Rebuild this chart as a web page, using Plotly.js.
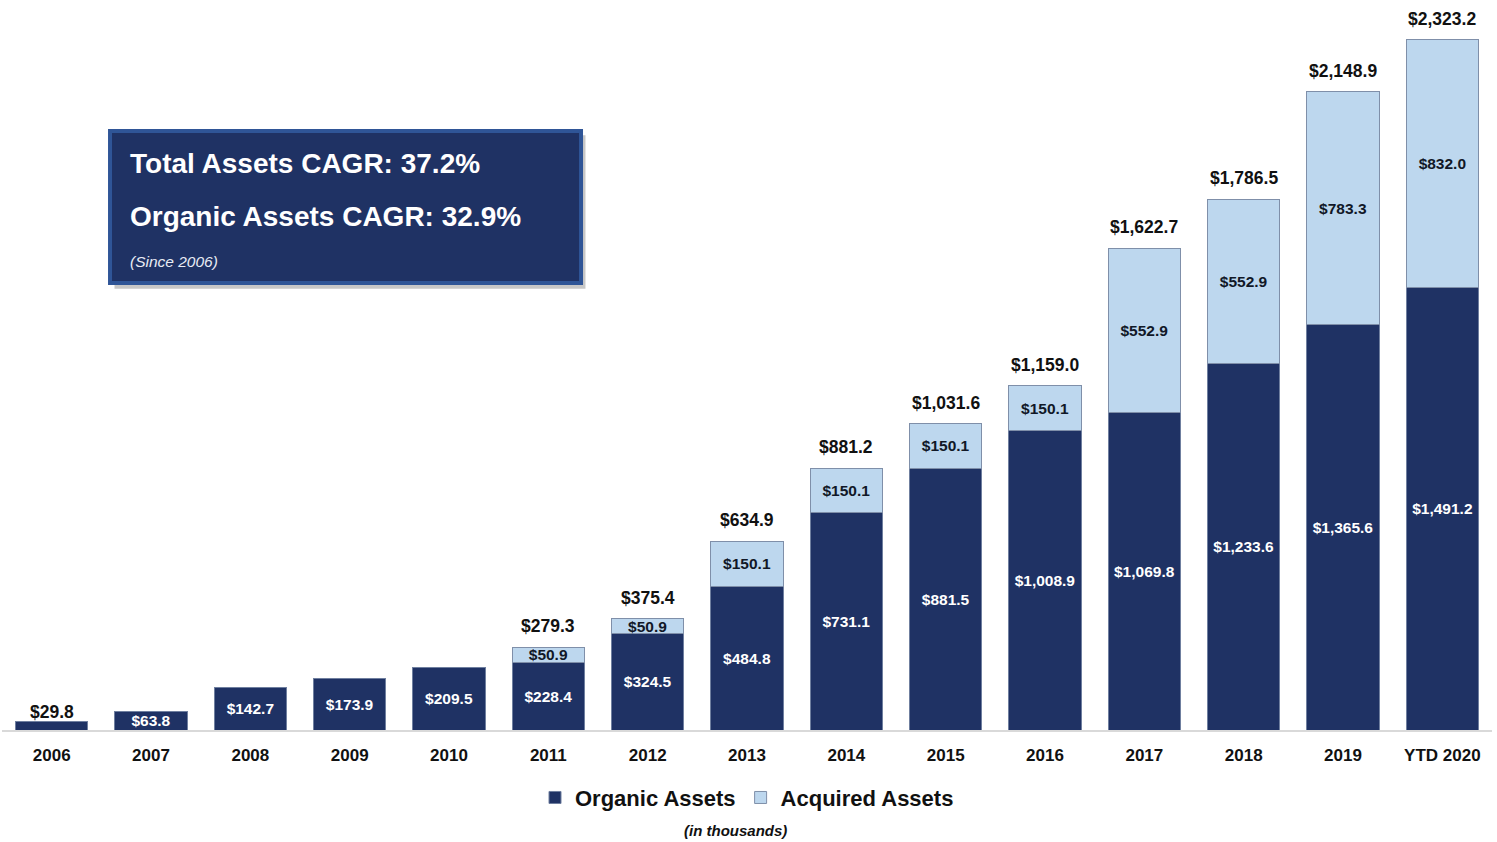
<!DOCTYPE html>
<html>
<head>
<meta charset="utf-8">
<script src="https://cdn.plot.ly/plotly-3.0.1.min.js"></script>
<style>html,body{margin:0;padding:0;background:#fff;}#chart{width:1497px;height:842px;}</style>
</head>
<body>
<div id="chart"></div>
<script>
const categories = ['2006','2007','2008','2009','2010','2011','2012','2013','2014','2015','2016','2017','2018','2019','YTD 2020'];
const organic = [29.8, 63.8, 142.7, 173.9, 209.5, 228.4, 324.5, 484.8, 731.1, 881.5, 1008.9, 1069.8, 1233.6, 1365.6, 1491.2];
const acquired = [null, null, null, null, null, 50.9, 50.9, 150.1, 150.1, 150.1, 150.1, 552.9, 552.9, 783.3, 832.0];
const totalLabels = [29.8, null, null, null, null, 279.3, 375.4, 634.9, 881.2, 1031.6, 1159.0, 1622.7, 1786.5, 2148.9, 2323.2];
const organicInsideShown = [false, true, true, true, true, true, true, true, true, true, true, true, true, true, true];

const FAM = '"Liberation Sans", Arial, sans-serif';
const fmt = v => '$' + v.toLocaleString('en-US', {minimumFractionDigits: 1, maximumFractionDigits: 1});

const NAVY = '#1f3264';
const LIGHT = '#bdd7ee';

const traces = [
  {
    type: 'bar', name: 'Organic Assets', x: categories, y: organic,
    marker: {color: NAVY, line: {color: '#6f7f9f', width: 1}},
    text: organic.map((v, i) => organicInsideShown[i] ? fmt(v) : ''),
    textposition: 'inside', insidetextanchor: 'middle', textangle: 0,
    constraintext: 'none',
    insidetextfont: {family: FAM, size: 15.5, color: '#ffffff', weight: 700},
    hoverinfo: 'skip'
  },
  {
    type: 'bar', name: 'Acquired Assets', x: categories, y: acquired,
    marker: {color: LIGHT, line: {color: '#7f8fa9', width: 1}},
    text: acquired.map(v => v ? fmt(v) : ''),
    textposition: 'inside', insidetextanchor: 'middle', textangle: 0,
    constraintext: 'none',
    insidetextfont: {family: FAM, size: 15.5, color: '#111827', weight: 700},
    hoverinfo: 'skip'
  }
];

const annotations = [];
totalLabels.forEach((v, i) => {
  if (v === null) return;
  annotations.push({
    x: i, y: v, xref: 'x', yref: 'y',
    text: fmt(v), showarrow: false, yanchor: 'bottom',
    yshift: i === 0 ? -3 : 9,
    font: {family: FAM, size: 17.5, color: '#111111', weight: 700}
  });
});

// CAGR box texts
annotations.push(
  {xref: 'paper', yref: 'paper', x: 0.0846, y: 0.7875, xanchor: 'left', yanchor: 'middle', showarrow: false,
   text: 'Total Assets CAGR: 37.2%', font: {family: FAM, size: 28, color: '#ffffff', weight: 700}},
  {xref: 'paper', yref: 'paper', x: 0.0846, y: 0.7125, xanchor: 'left', yanchor: 'middle', showarrow: false,
   text: 'Organic Assets CAGR: 32.9%', font: {family: FAM, size: 28, color: '#ffffff', weight: 700}},
  {xref: 'paper', yref: 'paper', x: 0.0846, y: 0.651, xanchor: 'left', yanchor: 'middle', showarrow: false,
   text: '<i>(Since 2006)</i>', font: {family: FAM, size: 15.5, color: '#e8ecf4'}},
  {xref: 'paper', yref: 'paper', x: 0.492, y: -0.139, xanchor: 'center', yanchor: 'middle', showarrow: false,
   text: '<i>(in thousands)</i>', font: {family: FAM, size: 15, color: '#111111', weight: 700}}
);

const shapes = [
  {type: 'rect', xref: 'paper', yref: 'paper', x0: 0.0755, x1: 0.3916, y0: 0.613, y1: 0.826,
   fillcolor: 'rgba(0,0,0,0.22)', line: {width: 0}, layer: 'above'},
  {type: 'rect', xref: 'paper', yref: 'paper', x0: 0.0725, x1: 0.3886, y0: 0.621, y1: 0.832,
   fillcolor: NAVY, line: {color: '#2f5597', width: 4}, layer: 'above'}
];

const layout = {
  width: 1497, height: 842,
  margin: {l: 2, r: 5, t: 10, b: 112},
  paper_bgcolor: '#ffffff', plot_bgcolor: '#ffffff',
  barmode: 'stack', bargap: 0.275,
  showlegend: true,
  legend: {orientation: 'h', x: 0.5, xanchor: 'center', y: -0.094, yanchor: 'middle',
           font: {family: FAM, size: 22, color: '#111111', weight: 700}, traceorder: 'normal',
           itemwidth: 30, bgcolor: 'rgba(0,0,0,0)'},
  xaxis: {
    type: 'category', showgrid: false, zeroline: false,
    range: [-0.5, 14.5], autorange: false,
    showline: true, linecolor: '#d9d9d9', linewidth: 2,
    ticks: '', ticklabelstandoff: 9,
    tickfont: {family: FAM, size: 17, color: '#111111', weight: 700},
    fixedrange: true
  },
  yaxis: {
    range: [0, 2424], autorange: false, showgrid: false, zeroline: false, showline: false,
    showticklabels: false, ticks: '', fixedrange: true
  },
  annotations: annotations,
  shapes: shapes,
  uniformtext: {mode: false}
};

Plotly.newPlot('chart', traces, layout, {staticPlot: true, displayModeBar: false});
</script>
</body>
</html>
